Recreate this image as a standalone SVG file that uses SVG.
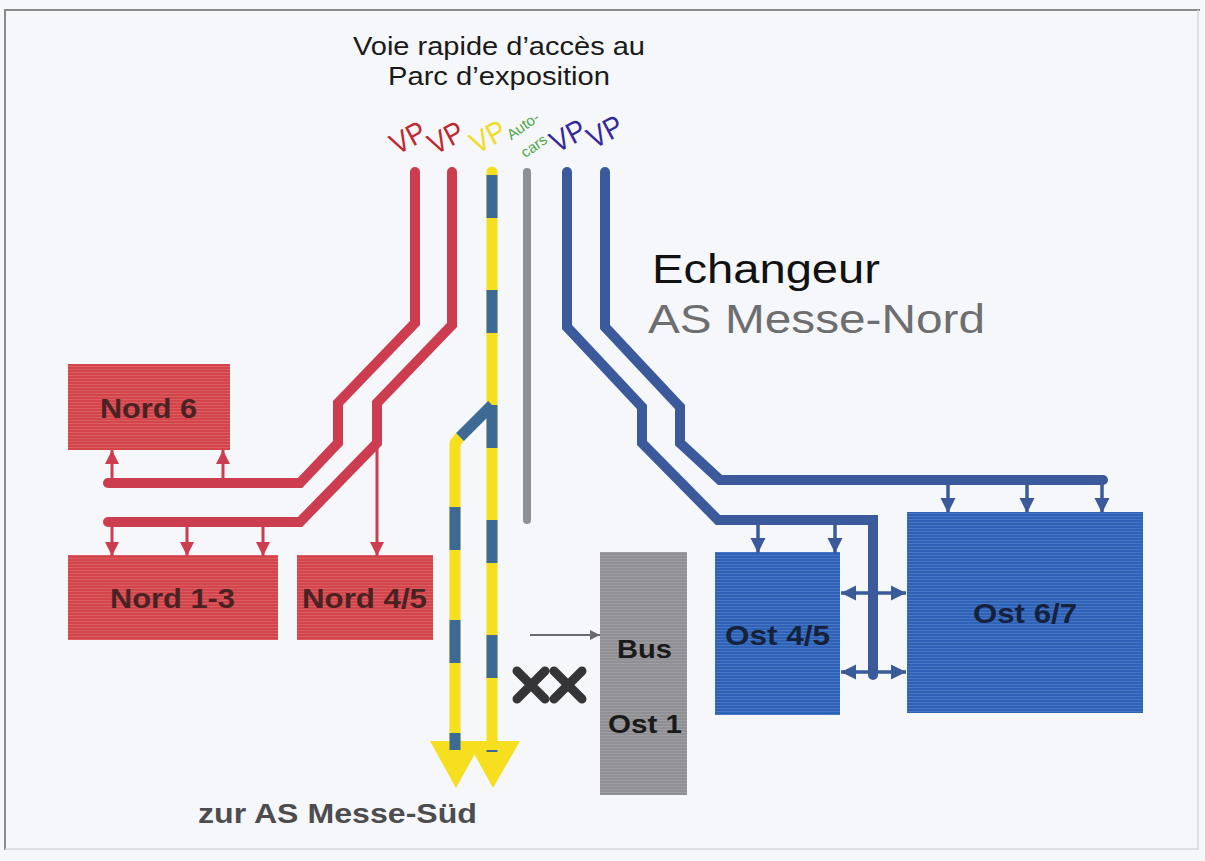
<svg xmlns="http://www.w3.org/2000/svg" width="1205" height="861" viewBox="0 0 1205 861">
<style>
.t{font-family:"Liberation Sans",Arial,sans-serif}
.b{font-family:"Liberation Sans",Arial,sans-serif;font-weight:bold}
.red{fill:#d3454a}
.blu{fill:#2e62b8}
.gry{fill:#8f8f94}
.rl{fill:none;stroke:#cc3d50;stroke-width:10;stroke-linejoin:miter;stroke-linecap:round}
.bl{fill:none;stroke:#3b5a9c;stroke-width:10;stroke-linejoin:miter;stroke-linecap:round}
.ra{fill:none;stroke:#cc3d50;stroke-width:3}
.ba{fill:none;stroke:#3b5a9c;stroke-width:3.5}
.vp{font-family:"Liberation Sans",Arial,sans-serif;font-size:30px}
</style>
<defs>
<pattern id="scan" width="6" height="3" patternUnits="userSpaceOnUse"><rect width="6" height="1" fill="#ffffff" opacity="0.13"/></pattern>
<marker id="ar" viewBox="0 0 10 10" refX="10" refY="5" markerWidth="14" markerHeight="20" markerUnits="userSpaceOnUse" orient="auto"><path d="M0,0 L10,5 L0,10 Z" fill="#cc3d50"/></marker>
<marker id="ab" viewBox="0 0 10 10" refX="10" refY="5" markerWidth="15" markerHeight="20" markerUnits="userSpaceOnUse" orient="auto-start-reverse"><path d="M0,0 L10,5 L0,10 Z" fill="#3b5a9c"/></marker>
<marker id="ag" viewBox="0 0 10 10" refX="10" refY="5" markerWidth="12" markerHeight="10" markerUnits="userSpaceOnUse" orient="auto"><path d="M0,0 L10,5 L0,10 Z" fill="#6a6a6e"/></marker>
</defs>
<rect x="0" y="0" width="1205" height="861" fill="#f6f7fb"/>
<path d="M5,850 L5,10 L1200,10" fill="none" stroke="#8a8a8a" stroke-width="2"/>
<path d="M1198,10 L1198,849 L5,849" fill="none" stroke="#d8d8dc" stroke-width="1.5"/>

<g id="title">
<text class="t" x="499" y="55" font-size="26" text-anchor="middle" textLength="292" lengthAdjust="spacingAndGlyphs" fill="#1a1a1a">Voie rapide d’accès au</text>
<text class="t" x="499" y="85" font-size="26" text-anchor="middle" textLength="222" lengthAdjust="spacingAndGlyphs" fill="#1a1a1a">Parc d’exposition</text>
</g>
<g id="lane-labels">
<text class="vp" x="408" y="148" text-anchor="middle" textLength="36" lengthAdjust="spacingAndGlyphs" fill="#c0282e" transform="rotate(-28 408 138)">VP</text>
<text class="vp" x="446" y="148" text-anchor="middle" textLength="36" lengthAdjust="spacingAndGlyphs" fill="#c0282e" transform="rotate(-28 446 138)">VP</text>
<text class="vp" x="488" y="147" text-anchor="middle" textLength="36" lengthAdjust="spacingAndGlyphs" fill="#f0dc22" transform="rotate(-28 488 137)">VP</text>
<text class="t" x="523" y="131" font-size="15" text-anchor="middle" fill="#4ea84a" transform="rotate(-35 523 126)">Auto-</text>
<text class="t" x="534" y="151" font-size="15" text-anchor="middle" fill="#4ea84a" transform="rotate(-35 534 146)">cars</text>
<text class="vp" x="568" y="146" text-anchor="middle" textLength="36" lengthAdjust="spacingAndGlyphs" fill="#35289a" transform="rotate(-28 568 136)">VP</text>
<text class="vp" x="605" y="142" text-anchor="middle" textLength="36" lengthAdjust="spacingAndGlyphs" fill="#35289a" transform="rotate(-28 605 132)">VP</text>
</g>
<g id="heading">
<text class="t" x="652" y="283" font-size="40" textLength="228" lengthAdjust="spacingAndGlyphs" fill="#111111">Echangeur</text>
<text class="t" x="648" y="333" font-size="40" textLength="337" lengthAdjust="spacingAndGlyphs" fill="#6e6e70">AS Messe-Nord</text>
</g>

<g id="nord6"><rect class="red" x="68" y="364" width="162" height="86"/><rect x="68" y="364" width="162" height="86" fill="url(#scan)"/><text class="b" x="100" y="418" font-size="28" textLength="97" lengthAdjust="spacingAndGlyphs" fill="#4a2224">Nord 6</text></g>
<g id="nord13"><rect class="red" x="68" y="555" width="210" height="85"/><rect x="68" y="555" width="210" height="85" fill="url(#scan)"/><text class="b" x="110" y="608" font-size="28" textLength="125" lengthAdjust="spacingAndGlyphs" fill="#4a2224">Nord 1-3</text></g>
<g id="nord45"><rect class="red" x="297" y="555" width="136" height="85"/><rect x="297" y="555" width="136" height="85" fill="url(#scan)"/><text class="b" x="302" y="608" font-size="28" textLength="125" lengthAdjust="spacingAndGlyphs" fill="#4a2224">Nord 4/5</text></g>
<g id="bus"><rect class="gry" x="600" y="552" width="87" height="243"/><rect x="600" y="552" width="87" height="243" fill="url(#scan)"/><text class="b" x="617" y="658" font-size="25" textLength="55" lengthAdjust="spacingAndGlyphs" fill="#1a1a1a">Bus</text><text class="b" x="608" y="733" font-size="25" textLength="74" lengthAdjust="spacingAndGlyphs" fill="#1a1a1a">Ost 1</text></g>
<g id="ost45"><rect class="blu" x="715" y="552" width="125" height="163"/><rect x="715" y="552" width="125" height="163" fill="url(#scan)"/><text class="b" x="725" y="645" font-size="28" textLength="105" lengthAdjust="spacingAndGlyphs" fill="#16223c">Ost 4/5</text></g>
<g id="ost67"><rect class="blu" x="907" y="512" width="236" height="201"/><rect x="907" y="512" width="236" height="201" fill="url(#scan)"/><text class="b" x="973" y="623" font-size="28" textLength="104" lengthAdjust="spacingAndGlyphs" fill="#16223c">Ost 6/7</text></g>

<g id="connectors">
<path class="rl" d="M415,172 L415,323 L338,403 L338,443 L300,483 L108,483"/>
<path class="rl" d="M452,172 L452,325 L377,403 L377,443 L300,522 L108,522"/>
<path class="ra" d="M112,483 L112,450" marker-end="url(#ar)"/>
<path class="ra" d="M223,483 L223,450" marker-end="url(#ar)"/>
<path class="ra" d="M112,522 L112,556" marker-end="url(#ar)"/>
<path class="ra" d="M187,522 L187,556" marker-end="url(#ar)"/>
<path class="ra" d="M263,522 L263,556" marker-end="url(#ar)"/>
<path class="ra" d="M377,443 L377,556" marker-end="url(#ar)"/>

<path d="M527,172 L527,520" fill="none" stroke="#8c9097" stroke-width="8" stroke-linecap="round"/>

<polygon points="430,741 482,741 456,788" fill="#f5df1e"/>
<polygon points="467,741 520,741 493,788" fill="#f5df1e"/>
<path d="M492,172 L492,745" fill="none" stroke="#f5df1e" stroke-width="11" stroke-linecap="round"/>
<path d="M492,175 L492,752" fill="none" stroke="#3d6a94" stroke-width="11" stroke-dasharray="43 72"/>
<path d="M455,745 L455,443 L460,437" fill="none" stroke="#f5df1e" stroke-width="11" stroke-linecap="round" stroke-linejoin="round"/>
<path d="M460,437 L492,405" fill="none" stroke="#3d6a94" stroke-width="11"/>
<path d="M455,507 L455,750" fill="none" stroke="#3d6a94" stroke-width="11" stroke-dasharray="43 70"/>

<path class="bl" d="M567,172 L567,327 L642,407 L642,443 L718,520 L873,520 L873,675"/>
<path class="bl" d="M605,172 L605,327 L680,407 L680,443 L720,480 L1103,480"/>
<path class="ba" d="M948,480 L948,513" marker-end="url(#ab)"/>
<path class="ba" d="M1027,480 L1027,513" marker-end="url(#ab)"/>
<path class="ba" d="M1102,480 L1102,513" marker-end="url(#ab)"/>
<path class="ba" d="M758,520 L758,553" marker-end="url(#ab)"/>
<path class="ba" d="M835,520 L835,553" marker-end="url(#ab)"/>
<path class="ba" d="M841,593 L906,593" marker-start="url(#ab)" marker-end="url(#ab)"/>
<path class="ba" d="M841,672 L906,672" marker-start="url(#ab)" marker-end="url(#ab)"/>

<path d="M530,635 L600,635" fill="none" stroke="#6a6a6e" stroke-width="2" marker-end="url(#ag)"/>
<path d="M517,671 L545,699 M545,671 L517,699 M554,671 L582,699 M582,671 L554,699" fill="none" stroke="#353538" stroke-width="9" stroke-linecap="round"/>
</g>

<g id="footer">
<text class="b" x="198" y="823" font-size="28" textLength="279" lengthAdjust="spacingAndGlyphs" fill="#4d4d50">zur AS Messe-Süd</text>
</g>
</svg>
